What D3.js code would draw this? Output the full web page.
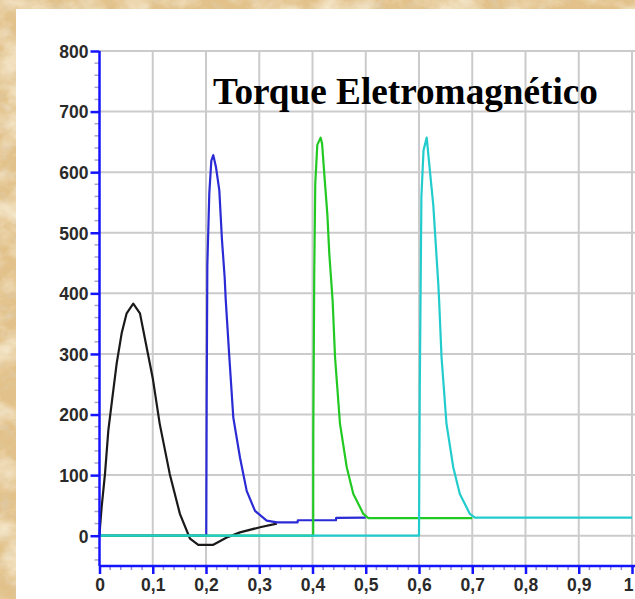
<!DOCTYPE html>
<html>
<head>
<meta charset="utf-8">
<script src="https://cdn.jsdelivr.net/npm/d3@7"></script>
<style>
  html, body { margin: 0; padding: 0; overflow: hidden; background: #e2c38b; }
  svg { display: block; }
</style>
</head>
<body>
<script>
// ---- chart text and ticks ----
const title = "Torque Eletromagnético";
const xTickValues = [0, 0.1, 0.2, 0.3, 0.4, 0.5, 0.6, 0.7, 0.8, 0.9, 1];
const xTickLabels = ["0", "0,1", "0,2", "0,3", "0,4", "0,5", "0,6", "0,7", "0,8", "0,9", "1"];
const yTickValues = [0, 100, 200, 300, 400, 500, 600, 700, 800];
const yTickLabels = ["0", "100", "200", "300", "400", "500", "600", "700", "800"];

// ---- torque runs: time (s) and torque ----
// run 1: direct start at t = 0
const blackT = [0, 0.001, 0.004, 0.0103, 0.0166, 0.0228, 0.0322, 0.0416, 0.051, 0.0634, 0.076, 0.0885, 0.1, 0.113, 0.1319, 0.151, 0.170, 0.1855, 0.2137, 0.2389, 0.2638, 0.3014, 0.333];
const blackV = [0, 14, 47, 102, 174, 218, 284, 334, 367, 383, 367, 311, 260, 185, 102, 36, -5, -15, -15, -3, 5.5, 14, 20];
// run 2: switched in at t = 0.2
const blueT = [0, 0.2005, 0.2013, 0.2025, 0.2062, 0.210, 0.2137, 0.2188, 0.225, 0.230, 0.235, 0.237, 0.2438, 0.2513, 0.2638, 0.2764, 0.292, 0.314, 0.333, 0.372, 0.3725, 0.444, 0.4445, 0.5];
const blueV = [0, 0, 228, 446, 565, 619, 628, 608, 570, 488, 427, 390, 295, 195, 129, 74, 41, 25, 22, 22, 25.5, 25.5, 29.5, 30];
// run 3: switched in at t = 0.4
const greenT = [0, 0.4013, 0.4015, 0.4033, 0.4052, 0.409, 0.4153, 0.418, 0.423, 0.428, 0.4315, 0.4378, 0.4423, 0.4516, 0.4643, 0.4767, 0.4955, 0.505, 0.7];
const greenV = [0, 0, 168, 435, 581, 645, 657, 647, 587, 529, 466, 388, 295, 185, 113, 69, 36, 29, 29];
// run 4: switched in at t = 0.6
const cyanT = [0, 0.6, 0.6015, 0.6045, 0.6085, 0.6145, 0.6207, 0.6269, 0.6314, 0.6362, 0.6378, 0.6423, 0.6516, 0.6643, 0.6767, 0.6955, 0.705, 1.0];
const cyanV = [0, 0, 250, 559, 636, 657, 600, 545, 482, 416, 388, 295, 185, 113, 69, 36, 30, 30];

const runs = [
  { t: blackT, v: blackV, color: "#1a1a1a" },
  { t: blueT,  v: blueV,  color: "#2b2bd6" },
  { t: greenT, v: greenV, color: "#22c922" },
  { t: cyanT,  v: cyanV,  color: "#22cccc" }
];

const W = 635, H = 599;
const svg = d3.select("body").append("svg").attr("width", W).attr("height", H);

// ---- parchment background ----
const defs = svg.append("defs");
const paper = defs.append("filter").attr("id", "paper")
  .attr("x", 0).attr("y", 0).attr("width", "100%").attr("height", "100%");
paper.append("feTurbulence").attr("type", "fractalNoise")
  .attr("baseFrequency", "0.025 0.035").attr("numOctaves", 5).attr("seed", 7).attr("result", "n1");
paper.append("feColorMatrix").attr("in", "n1").attr("type", "matrix")
  .attr("values", "0 0 0 0 0.96  0 0 0 0 0.87  0 0 0 0 0.68  2.0 0 0 0 -0.85")
  .attr("result", "light");
paper.append("feTurbulence").attr("type", "fractalNoise")
  .attr("baseFrequency", "0.08 0.1").attr("numOctaves", 3).attr("seed", 11).attr("result", "n2");
paper.append("feColorMatrix").attr("in", "n2").attr("type", "matrix")
  .attr("values", "0 0 0 0 0.74  0 0 0 0 0.58  0 0 0 0 0.36  0 2.4 0 0 -1.2")
  .attr("result", "dark");
paper.append("feFlood").attr("flood-color", "#e2c28a").attr("result", "base");
const merge = paper.append("feMerge");
merge.append("feMergeNode").attr("in", "base");
merge.append("feMergeNode").attr("in", "dark");
merge.append("feMergeNode").attr("in", "light");

svg.append("rect").attr("width", W).attr("height", H).attr("filter", "url(#paper)");

// white chart panel
svg.append("rect").attr("x", 16).attr("y", 9).attr("width", W - 16).attr("height", H - 9)
  .attr("fill", "#ffffff");

// ---- scales ----
const x = d3.scaleLinear().domain([0, 1]).range([99.5, 632]);
const y = d3.scaleLinear().domain([-50, 800]).range([566, 51]);

// ---- grid ----
const grid = svg.append("g").attr("stroke", "#cbcbcb").attr("stroke-width", 2);
grid.selectAll("line.v").data(xTickValues.filter(d => d > 0)).join("line")
  .attr("x1", d => x(d)).attr("x2", d => x(d))
  .attr("y1", y(800)).attr("y2", y(-50));
grid.selectAll("line.h").data(yTickValues).join("line")
  .attr("x1", x(0)).attr("x2", W)
  .attr("y1", d => y(d)).attr("y2", d => y(d));

// ---- curves ----
const line = d3.line().x(d => x(d[0])).y(d => y(d[1]));
svg.append("g").attr("fill", "none").attr("stroke-width", 2.2).attr("stroke-linejoin", "round")
  .selectAll("path").data(runs).join("path")
  .attr("stroke", d => d.color)
  .attr("d", d => line(d.t.map((t, i) => [t, d.v[i]])));

// ---- axes ----
const axisBlue = "#1414ff";
const labelFont = "'Liberation Sans', Arial, sans-serif";

// minor ticks
const yMinor = d3.range(-40, 800, 20).filter(v => v % 100 !== 0);
svg.append("g").attr("stroke", "#a8a8c8").attr("stroke-width", 1.5)
  .selectAll("line").data(yMinor).join("line")
  .attr("x1", x(0) - 5).attr("x2", x(0))
  .attr("y1", d => y(d)).attr("y2", d => y(d));
const xMinor = d3.range(0.02, 1, 0.02).filter(v => Math.abs(v * 10 - Math.round(v * 10)) > 1e-6);
svg.append("g").attr("stroke", "#8c8cd8").attr("stroke-width", 1.5)
  .selectAll("line").data(xMinor).join("line")
  .attr("x1", d => x(d)).attr("x2", d => x(d))
  .attr("y1", y(-50)).attr("y2", y(-50) + 4);

// y axis
const yAxis = d3.axisLeft(y).tickValues(yTickValues).tickSize(9).tickPadding(2)
  .tickFormat((d, i) => yTickLabels[i]);
const gy = svg.append("g").attr("transform", `translate(${x(0)},0)`).call(yAxis);
gy.select(".domain").attr("d", `M0,${y(800)}V${y(-50)}`).attr("stroke", axisBlue).attr("stroke-width", 2.5);
gy.selectAll(".tick line").attr("stroke", axisBlue).attr("stroke-width", 2.5);
gy.selectAll(".tick text").attr("font-family", labelFont).attr("font-size", 17.5)
  .attr("font-weight", "bold").attr("fill", "#2a2a2a").attr("dy", "0.36em");

// x axis
const xAxis = d3.axisBottom(x).tickValues(xTickValues).tickSize(8).tickPadding(4)
  .tickFormat((d, i) => xTickLabels[i]);
const gx = svg.append("g").attr("transform", `translate(0,${y(-50)})`).call(xAxis);
gx.select(".domain").attr("d", `M${x(0)},0H${W}`).attr("stroke", axisBlue).attr("stroke-width", 2.5);
gx.selectAll(".tick line").attr("stroke", axisBlue).attr("stroke-width", 2.5);
gx.selectAll(".tick text").attr("font-family", labelFont).attr("font-size", 17.5)
  .attr("font-weight", "bold").attr("fill", "#2a2a2a").attr("dy", "0.72em");
// the last label sits at the window edge; keep it inside
gx.selectAll(".tick text").filter(d => d === 1).attr("text-anchor", "end").attr("dx", 1);

// ---- title ----
const t = svg.append("text").attr("x", 213).attr("y", 103.5)
  .attr("font-family", "'Liberation Serif', 'Times New Roman', serif")
  .attr("font-weight", "bold").attr("font-size", 36).attr("fill", "#000")
  .text(title);
const tw = t.node().getComputedTextLength();
t.attr("font-size", 36 * 385 / tw);
</script>
</body>
</html>
